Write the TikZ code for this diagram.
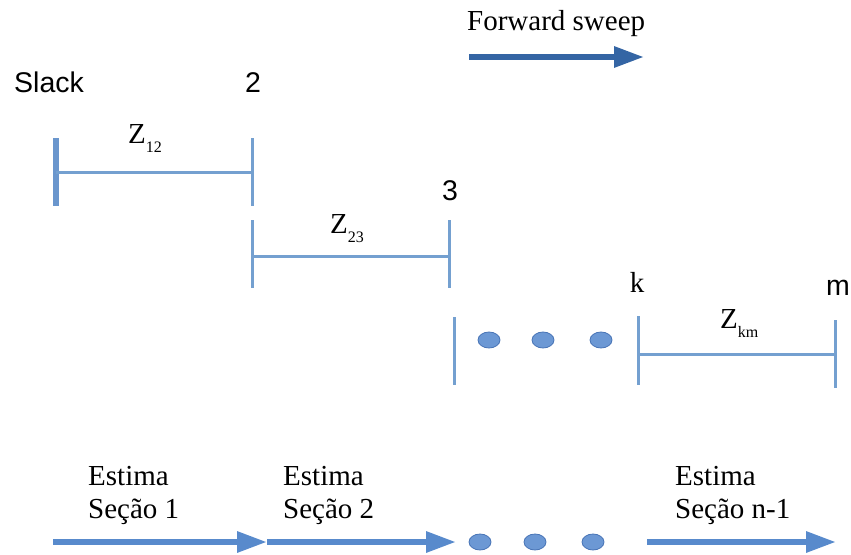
\documentclass[tikz,border=0pt]{standalone}
\usepackage{fontspec}
\setmainfont{Liberation Serif}
\setsansfont{Liberation Sans}
\usetikzlibrary{arrows.meta,shapes.geometric}

\definecolor{busblue}{RGB}{116,160,208}
\definecolor{slackblue}{RGB}{106,150,205}
\definecolor{sweepblue}{RGB}{52,101,164}
\definecolor{estblue}{RGB}{88,138,204}
\definecolor{dotfill}{RGB}{108,152,212}
\definecolor{dotedge}{RGB}{72,116,182}

\newcommand{\imp}[1]{Z\raisebox{-9.5pt}{\fontsize{16}{16}\selectfont #1}}

\begin{document}
\begin{tikzpicture}[x=1pt,y=-1pt,
  busbar/.style={draw=busblue, line width=3pt},
  slackbar/.style={draw=slackblue, line width=6.5pt},
  lineseg/.style={draw=busblue, line width=3pt},
  sweeparrow/.style={draw=sweepblue, line width=6pt, -{Triangle[length=30pt,width=20pt]}},
  estarrow/.style={draw=estblue, line width=6pt, -{Triangle[length=30pt,width=20pt]}},
  gapdot/.style={ellipse, draw=dotedge, fill=dotfill, line width=0.8pt, minimum width=22pt, minimum height=16pt, inner sep=0pt},
  serif/.style={font=\fontsize{29}{34}\selectfont, inner sep=0pt},
  sans/.style={font=\sffamily\fontsize{28.5}{33}\selectfont, inner sep=0pt},
  bottomtext/.style={font=\fontsize{29}{33}\selectfont, inner sep=0pt, align=left, anchor=base west}]

\useasboundingbox (0,0) rectangle (851,554);

% bus labels
\node[sans, anchor=base west] (lslack) at (14,92) {Slack};
\node[sans, anchor=base] (l2) at (253,92) {2};
\node[sans, anchor=base] (l3) at (450,200) {3};
\node[serif, anchor=base] (lk) at (637,292) {k};
\node[sans, anchor=base] (lm) at (838,295) {m};

% impedance labels
\node[serif, anchor=base west] (z12) at (128,143) {\imp{12}};
\node[serif, anchor=base west] (z23) at (330,233) {\imp{23}};
\node[serif, anchor=base west] (zkm) at (720,328) {\imp{km}};

% bus bar end points
\coordinate (s1a) at (56,138);  \coordinate (s1b) at (56,206);  \coordinate (s1m) at (56,172);
\coordinate (b2a) at (252,138); \coordinate (b2b) at (252,206); \coordinate (b2m) at (252,172);
\coordinate (c2a) at (252,220); \coordinate (c2b) at (252,288); \coordinate (c2m) at (252,256);
\coordinate (b3a) at (449,220); \coordinate (b3b) at (449,288); \coordinate (b3m) at (449,256);
\coordinate (c3a) at (454,317); \coordinate (c3b) at (454,385);
\coordinate (bka) at (638,316); \coordinate (bkb) at (638,385); \coordinate (bkm) at (638,354);
\coordinate (bma) at (835,320); \coordinate (bmb) at (835,388); \coordinate (bmm) at (835,354);

% bus bars
\draw[slackbar] (s1a) -- (s1b);
\draw[busbar] (b2a) -- (b2b);
\draw[busbar] (c2a) -- (c2b);
\draw[busbar] (b3a) -- (b3b);
\draw[busbar] (c3a) -- (c3b);
\draw[busbar] (bka) -- (bkb);
\draw[busbar] (bma) -- (bmb);

% line sections
\draw[lineseg] (s1m) -- (b2m);
\draw[lineseg] (c2m) -- (b3m);
\draw[lineseg] (bkm) -- (bmm);

% omitted sections
\node[gapdot] (d1) at (489,340) {};
\node[gapdot] (d2) at (543,340) {};
\node[gapdot] (d3) at (601,340) {};

% forward sweep
\node[serif, anchor=base west] (fs) at (467,30) {Forward sweep};
\coordinate (fsa) at (469,57); \coordinate (fsb) at (644,57);
\draw[sweeparrow] (fsa) -- (fsb);

% section estimates (anchored on the baseline of the second line)
\node[bottomtext] (e1) at (88,518) {Estima\\[-0.5pt]Seção 1};
\node[bottomtext] (e2) at (283,518) {Estima\\[-0.5pt]Seção 2};
\node[bottomtext] (e3) at (675,518) {Estima\\[-0.5pt]Seção n-1};

\coordinate (a1s) at (53,542);  \coordinate (a1e) at (267,542);
\coordinate (a2s) at (267,542); \coordinate (a2e) at (456,542);
\coordinate (a3s) at (647,542); \coordinate (a3e) at (836,542);
\draw[estarrow] (a1s) -- (a1e);
\draw[estarrow] (a2s) -- (a2e);
\draw[estarrow] (a3s) -- (a3e);

\node[gapdot] (e4) at (480,542) {};
\node[gapdot] (e5) at (535,542) {};
\node[gapdot] (e6) at (593,542) {};

\end{tikzpicture}
\end{document}
